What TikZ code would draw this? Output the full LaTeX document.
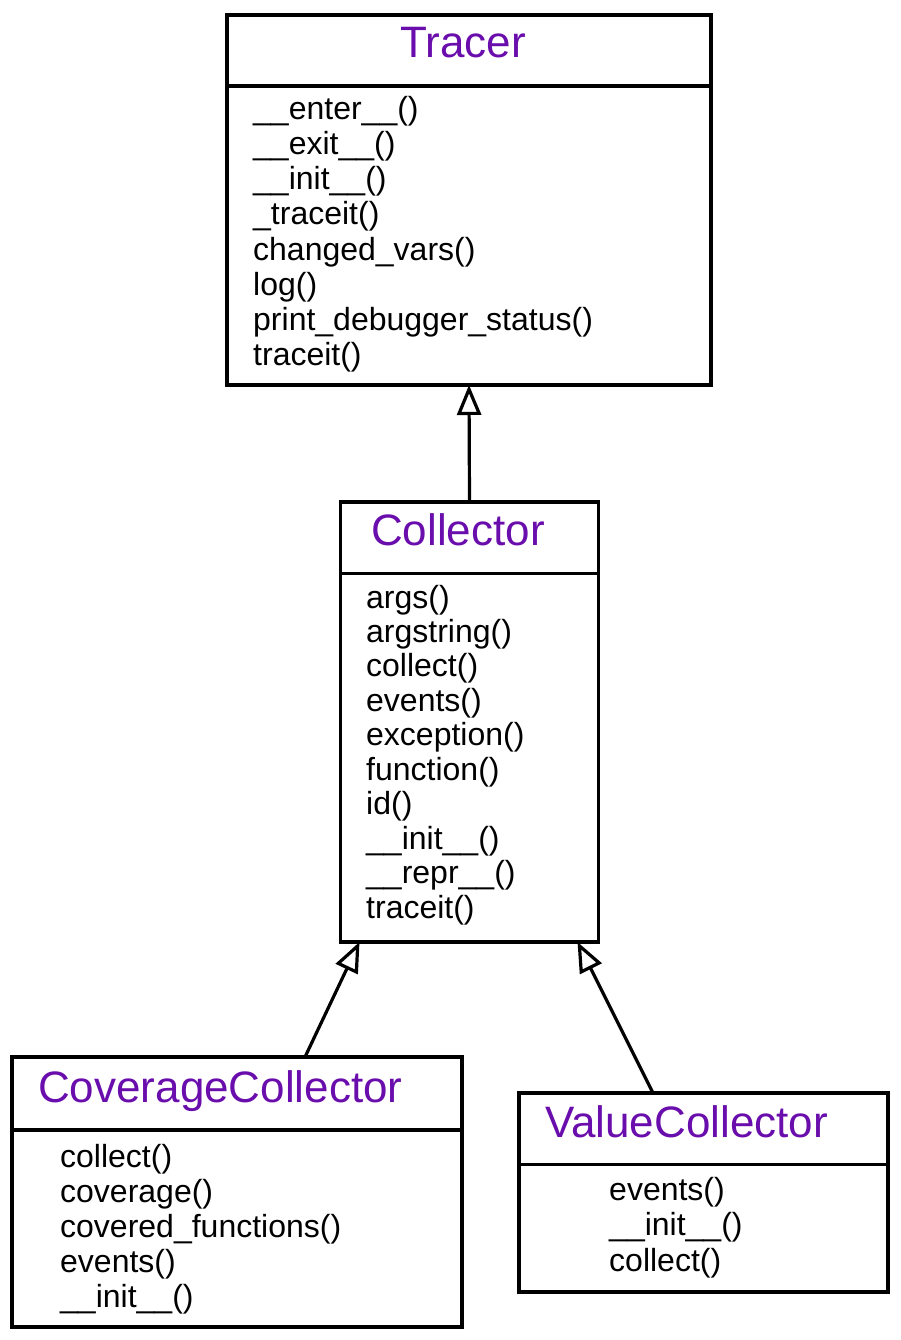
\documentclass[tikz,border=0pt]{standalone}
\usepackage{fontspec}
\setmainfont{Liberation Sans}
\usetikzlibrary{arrows.meta,calc}
\definecolor{titlepurple}{RGB}{106,13,173}
\tikzset{
  classbox/.style={draw=black, line width=3.2pt, fill=white, inner sep=0pt, outer sep=0pt},
  divider/.style={draw=black, line width=3.2pt},
  classtitle/.style={anchor=base west, inner sep=0pt, text=titlepurple, font=\fontsize{44}{46}\selectfont},
  meth/.style={anchor=base west, inner sep=0pt, text=black, font=\fontsize{32}{34.5}\selectfont},
  inherit/.style={draw=black, line width=3.2pt, -{Triangle[open, length=30pt, width=24pt, line width=3.2pt]}}
}
\begin{document}
\begin{tikzpicture}[x=1pt, y=-1pt]
\useasboundingbox (0,0) rectangle (900,1340);
% Tracer
\node[classbox, minimum width=484pt, minimum height=370pt] (tracer) at (469,200) {};
\draw[divider] (tracer.west |- 0,86) -- (tracer.east |- 0,86);
\node[classtitle] (tracertitle) at (400,58) {Tracer};
\foreach \t [count=\i from 0] in {\_\_enter\_\_(), \_\_exit\_\_(), \_\_init\_\_(), \_traceit(), changed\_vars(), log(), print\_debugger\_status(), traceit()}
  \node[meth] (tracerm\i) at (253,{120+35*\i}) {\t};
% Collector
\node[classbox, minimum width=258pt, minimum height=440pt] (collector) at (469.5,722) {};
\draw[divider] (collector.west |- 0,573.5) -- (collector.east |- 0,573.5);
\node[classtitle] (collectortitle) at (371,545) {Collector};
\foreach \t [count=\i from 0] in {args(), argstring(), collect(), events(), exception(), function(), id(), \_\_init\_\_(), \_\_repr\_\_(), traceit()}
  \node[meth] (collectorm\i) at (366,{608+34.45*\i}) {\t};
% CoverageCollector
\node[classbox, minimum width=450pt, minimum height=270pt] (cov) at (237,1192) {};
\draw[divider] (cov.west |- 0,1130) -- (cov.east |- 0,1130);
\node[classtitle] (covtitle) at (38,1102) {CoverageCollector};
\foreach \t [count=\i from 0] in {collect(), coverage(), covered\_functions(), events(), \_\_init\_\_()}
  \node[meth] (covm\i) at (60,{1167+35*\i}) {\t};
% ValueCollector
\node[classbox, minimum width=369pt, minimum height=199pt] (val) at (703.5,1192.5) {};
\draw[divider] (val.west |- 0,1164.5) -- (val.east |- 0,1164.5);
\node[classtitle] (valtitle) at (545,1137) {ValueCollector};
\foreach \t [count=\i from 0] in {events(), \_\_init\_\_(), collect()}
  \node[meth] (valm\i) at (609,{1200+35.5*\i}) {\t};
% connectors
\coordinate (covtail) at ([xshift=293pt]cov.north west);
\coordinate (covtip) at ([xshift=19pt]collector.south west);
\coordinate (valtail) at ([xshift=134pt]val.north west);
\coordinate (valtip) at ([xshift=-21pt]collector.south east);
\draw[inherit] (collector.north) -- (tracer.south);
\draw[inherit] (covtail) -- (covtip);
\draw[inherit] (valtail) -- (valtip);
\end{tikzpicture}
\end{document}
